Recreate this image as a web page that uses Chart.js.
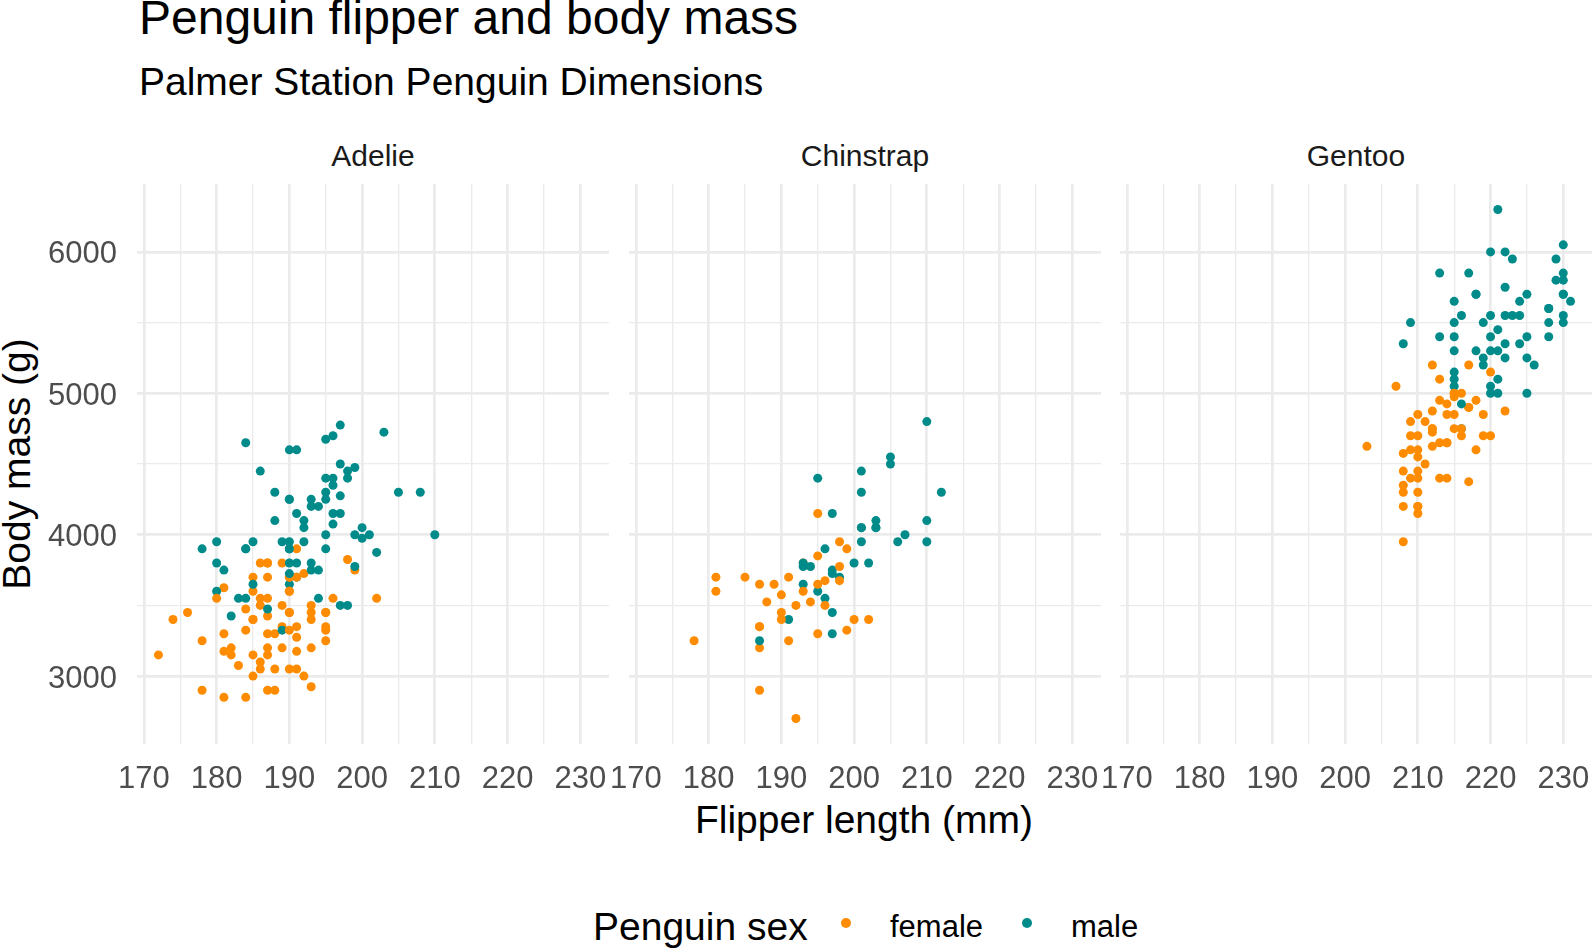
<!DOCTYPE html>
<html>
<head>
<meta charset="utf-8">
<script src="https://cdn.jsdelivr.net/npm/chart.js@4"></script>
<style>
  html, body { margin: 0; padding: 0; background: #fff; overflow: hidden; }
  body { width: 1592px; height: 948px; position: relative; font-family: "Liberation Sans", Arial, sans-serif; }
  .txt { position: absolute; white-space: nowrap; line-height: 1; color: #000; }
  .strip { transform: translateX(-50%); color: #1a1a1a; font-size: 30px; top: 141px; }
  .dot { position: absolute; width: 10px; height: 10px; border-radius: 50%; }
  canvas { position: absolute; }
</style>
</head>
<body>
<div class="txt" style="left:139px; top:-6px; font-size:48px;">Penguin flipper and body mass</div>
<div class="txt" style="left:139px; top:62px; font-size:39px;">Palmer Station Penguin Dimensions</div>

<div class="txt strip" style="left:373px;">Adelie</div>
<div class="txt strip" style="left:865px;">Chinstrap</div>
<div class="txt strip" style="left:1356px;">Gentoo</div>

<div class="txt" style="left:16px; top:464px; font-size:39px; transform:translate(-50%,-50%) rotate(-90deg);">Body mass (g)</div>
<div class="txt" style="left:864px; top:800px; font-size:39px; transform:translateX(-50%);">Flipper length (mm)</div>

<div class="txt" style="left:593px; top:907px; font-size:39px;">Penguin sex</div>
<div class="dot" style="left:841px; top:918px; background:#FF8C00;"></div>
<div class="txt" style="left:890px; top:911px; font-size:31px;">female</div>
<div class="dot" style="left:1022px; top:918px; background:#008B8B;"></div>
<div class="txt" style="left:1071px; top:911px; font-size:31px;">male</div>

<canvas id="adelie" width="649" height="656" style="left:0px; top:144px;"></canvas>
<canvas id="chinstrap" width="552" height="656" style="left:589px; top:144px;"></canvas>
<canvas id="gentoo" width="552" height="656" style="left:1080px; top:144px;"></canvas>

<script>
// ---- data (rows with known sex, in data order) ----
const adelieFlipper = [181,186,195,193,190,181,195,182,191,198,185,195,197,184,194,
  174,180,189,185,180,187,183,187,172,180,178,178,188,184,195,196,190,180,181,184,182,195,186,196,185,190,182,
  190,191,
  186,188,190,200,187,191,186,193,181,194,
  185,195,185,192,184,192,195,188,190,198,
  190,190,196,197,190,195,191,184,187,195,
  189,196,187,193,191,194,190,189,189,190,
  202,205,185,186,187,208,190,196,178,192,
  192,203,183,190,193,184,199,190,181,197,
  198,191,193,197,191,196,188,199,189,189,
  187,198,176,202,186,199,191,195,191,210,
  190,197,193,199,187,190,191,200,185,193,
  193,187,188,190,192,185,190,184,195,193,
  187,201];
const adelieMass = [3750,3800,3250,3450,3650,3625,4675,3200,3800,4400,3700,3450,4500,3325,4200,
  3400,3600,3800,3950,3800,3800,3550,3200,3150,3950,3250,3900,3300,3900,3325,4150,3950,3550,3300,4650,3150,3900,3100,4400,3000,4600,3425,
  3450,4150,
  3500,4300,3450,4050,2900,3700,3550,3800,2850,3750,
  3150,4400,3600,4050,2850,3950,3350,4100,3050,4450,
  3600,3900,3550,4150,3700,4250,3700,3900,3550,4000,
  3200,4700,3800,4200,3350,3550,3800,3500,3950,3600,
  3550,4300,3400,4450,3300,4300,3700,4350,2900,4100,
  3725,4725,3075,4250,2925,3550,3750,3900,3175,4775,
  3825,4600,3200,4275,3900,4075,2900,3775,3350,3325,
  3150,3500,3450,3875,3050,4000,3275,4300,3050,4000,
  3325,3500,3500,4475,3425,3900,3175,3975,3400,4250,
  3400,3475,3050,3725,3000,3650,4250,3475,3450,3750,
  3700,4000];
const adelieSex = ['m','f','f','f','m','f','m','f','m','m','f','f','m','f','m',
  'f','m','f','m','m','f','m','f','f','m','f','m','f','m','f','m','m','f','f','m','f','m','f','m','f','m','m',
  'f','m',
  'f','m','f','m','f','m','f','m','f','m',
  'f','m','f','m','f','m','f','m','f','m',
  'f','m','f','m','f','m','f','m','f','m',
  'f','m','f','m','f','m','m','f','m','f',
  'f','m','f','m','f','m','f','m','f','m',
  'f','m','f','m','f','m','f','m','f','m',
  'f','m','f','m','f','m','f','m','f','m',
  'f','m','f','m','f','m','f','m','f','m',
  'f','m','f','m','f','m','f','m','f','m',
  'f','m','f','m','f','m','m','f','f','m',
  'f','m'];

const chinstrapFlipper = [192,196,193,188,197,198,178,197,195,198,
  193,194,185,201,190,201,197,181,190,195,
  181,191,187,193,195,197,200,200,191,205,
  187,201,187,203,195,199,195,210,192,205,
  210,187,196,196,196,201,190,212,187,198,
  199,201,193,203,187,197,191,203,202,194,
  206,189,195,207,202,193,210,198];
const chinstrapMass = [3500,3900,3650,3525,3725,3950,3250,3750,4150,3700,
  3800,3775,3700,4050,3575,4050,3300,3700,3450,4400,
  3600,3400,2900,3800,3300,4150,3400,3800,3700,4550,
  3200,4300,3350,4100,3600,3900,3850,4800,2700,4500,
  3950,3650,3550,3500,3675,4450,3400,4300,3250,3675,
  3325,3950,3600,4050,3350,3450,3250,4050,3800,3525,
  3950,3650,3650,4000,3400,3775,4100,3775];
const chinstrapSex = ['f','m','m','f','m','f','f','m','f','m',
  'f','m','f','m','f','m','m','f','f','m',
  'f','m','f','m','f','m','f','m','f','m',
  'f','m','f','m','m','f','f','m','f','m',
  'm','f','m','f','f','m','f','m','m','f',
  'f','m','f','m','f','m','f','m','m','f',
  'm','f','f','m','f','m','m','f'];

const gentooFlipper = [211,230,210,218,215,210,211,219,209,215,
  214,216,214,213,210,217,210,221,209,222,
  218,215,213,215,215,215,
  215,210,220,
  222,209,207,230,220,220,213,219,208,208,
  208,225,210,216,222,217,210,225,213,215,
  210,220,210,225,217,220,208,220,208,224,
  208,221,214,231,219,230,
  229,220,223,
  216,221,221,217,216,230,209,220,215,223,
  212,221,212,224,212,228,218,218,212,230,
  218,228,212,224,214,226,216,222,203,225,
  219,228,215,228,
  215,210,219,208,209,
  216,229,213,230,217,230,
  222,214,
  215,222,212,213];
const gentooMass = [4500,5700,4450,5700,5400,4550,4800,5200,4400,5150,
  4650,5550,4650,5850,4200,5850,4150,6300,4800,5350,
  5700,5000,4400,5050,5000,5100,
  5650,4600,5550,
  5250,4700,5050,6050,5150,5400,4950,5250,4350,5350,
  3950,5700,4300,4750,5550,4900,4200,5400,5100,5300,
  4850,5300,4400,5000,4900,5050,4300,5000,4450,5550,
  4200,5300,4400,5650,4700,5700,
  5800,4700,5550,
  4750,5000,5100,5200,4700,5800,4600,6000,4750,5950,
  4625,5450,4725,5350,4750,5600,4600,5300,4875,5550,
  4950,5400,4750,5650,4850,5200,4925,4875,4625,5250,
  4850,5600,4975,5500,
  5500,4700,5500,4575,5500,
  5000,5950,4650,5500,4375,5850,
  6000,4925,
  4850,5750,5200,5400];
const gentooSex = ['f','m','f','m','m','f','f','m','f','m',
  'f','m','f','m','f','m','f','m','f','m',
  'm','f','f','m','f','m',
  'm','f','m',
  'm','f','f','m','f','m','f','m','f','m',
  'f','m','f','m','m','f','f','m','f','m',
  'f','m','f','m','f','m','f','m','f','m',
  'f','m','f','m','f','m',
  'm','f','m',
  'f','m','m','f','f','m','f','m','f','m',
  'f','m','f','m','f','m','f','m','f','m',
  'f','m','f','m','f','m','m','f','f','m',
  'f','m','f','m',
  'm','f','m','f','m',
  'f','m','f','m','f','m',
  'm','f',
  'f','m','f','m'];

const xMajorTicks = [170, 180, 190, 200, 210, 220, 230];
const xMinorTicks = [175, 185, 195, 205, 215, 225];
const yMajorTicks = [3000, 4000, 5000, 6000];
const yMinorTicks = [3500, 4500, 5500];

const sexColors = { f: '#FF8C00', m: '#008B8B' };
const gridColor = '#EBEBEB';
const tickFont = { family: '"Liberation Sans", Arial, sans-serif', size: 31 };

function tickList(major, minor) {
    return major.concat(minor).sort((a, b) => a - b).map(v => ({ value: v }));
}

function makePanel(id, flipper, mass, sex, showY) {
    const ctx = document.getElementById(id).getContext('2d');
    return new Chart(ctx, {
        type: 'scatter',
        data: {
            datasets: [{
                data: flipper.map((x, i) => ({ x: x, y: mass[i] })),
                pointBackgroundColor: sex.map(s => sexColors[s]),
                pointBorderWidth: 0,
                pointRadius: 4.5,
                pointHoverRadius: 4.5
            }]
        },
        options: {
            responsive: false,
            animation: false,
            events: [],
            layout: { padding: { top: 40, right: 40, bottom: 0, left: showY ? 0 : 40 } },
            plugins: { legend: { display: false }, tooltip: { enabled: false } },
            scales: {
                x: {
                    type: 'linear',
                    min: 169.05,
                    max: 233.95,
                    afterBuildTicks: s => { s.ticks = tickList(xMajorTicks, xMinorTicks); },
                    afterFit: s => { s.height = 56; },
                    border: { display: false },
                    grid: {
                        drawTicks: false,
                        color: gridColor,
                        lineWidth: c => xMajorTicks.includes(c.tick && c.tick.value) ? 2.7 : 1.35
                    },
                    ticks: {
                        autoSkip: false,
                        maxRotation: 0,
                        padding: 17,
                        color: '#4D4D4D',
                        font: tickFont,
                        callback: v => xMajorTicks.includes(v) ? String(v) : ''
                    }
                },
                y: {
                    type: 'linear',
                    min: 2520,
                    max: 6480,
                    afterBuildTicks: s => { s.ticks = tickList(yMajorTicks, yMinorTicks); },
                    afterFit: s => { s.width = showY ? 137 : 0; },
                    border: { display: false },
                    grid: {
                        drawTicks: false,
                        color: gridColor,
                        lineWidth: c => yMajorTicks.includes(c.tick && c.tick.value) ? 2.7 : 1.35
                    },
                    ticks: {
                        display: showY,
                        autoSkip: false,
                        padding: 20,
                        labelOffset: 3,
                        color: '#4D4D4D',
                        font: tickFont,
                        callback: v => yMajorTicks.includes(v) ? String(v) : ''
                    }
                }
            }
        }
    });
}

makePanel('adelie', adelieFlipper, adelieMass, adelieSex, true);
makePanel('chinstrap', chinstrapFlipper, chinstrapMass, chinstrapSex, false);
makePanel('gentoo', gentooFlipper, gentooMass, gentooSex, false);
</script>
</body>
</html>
